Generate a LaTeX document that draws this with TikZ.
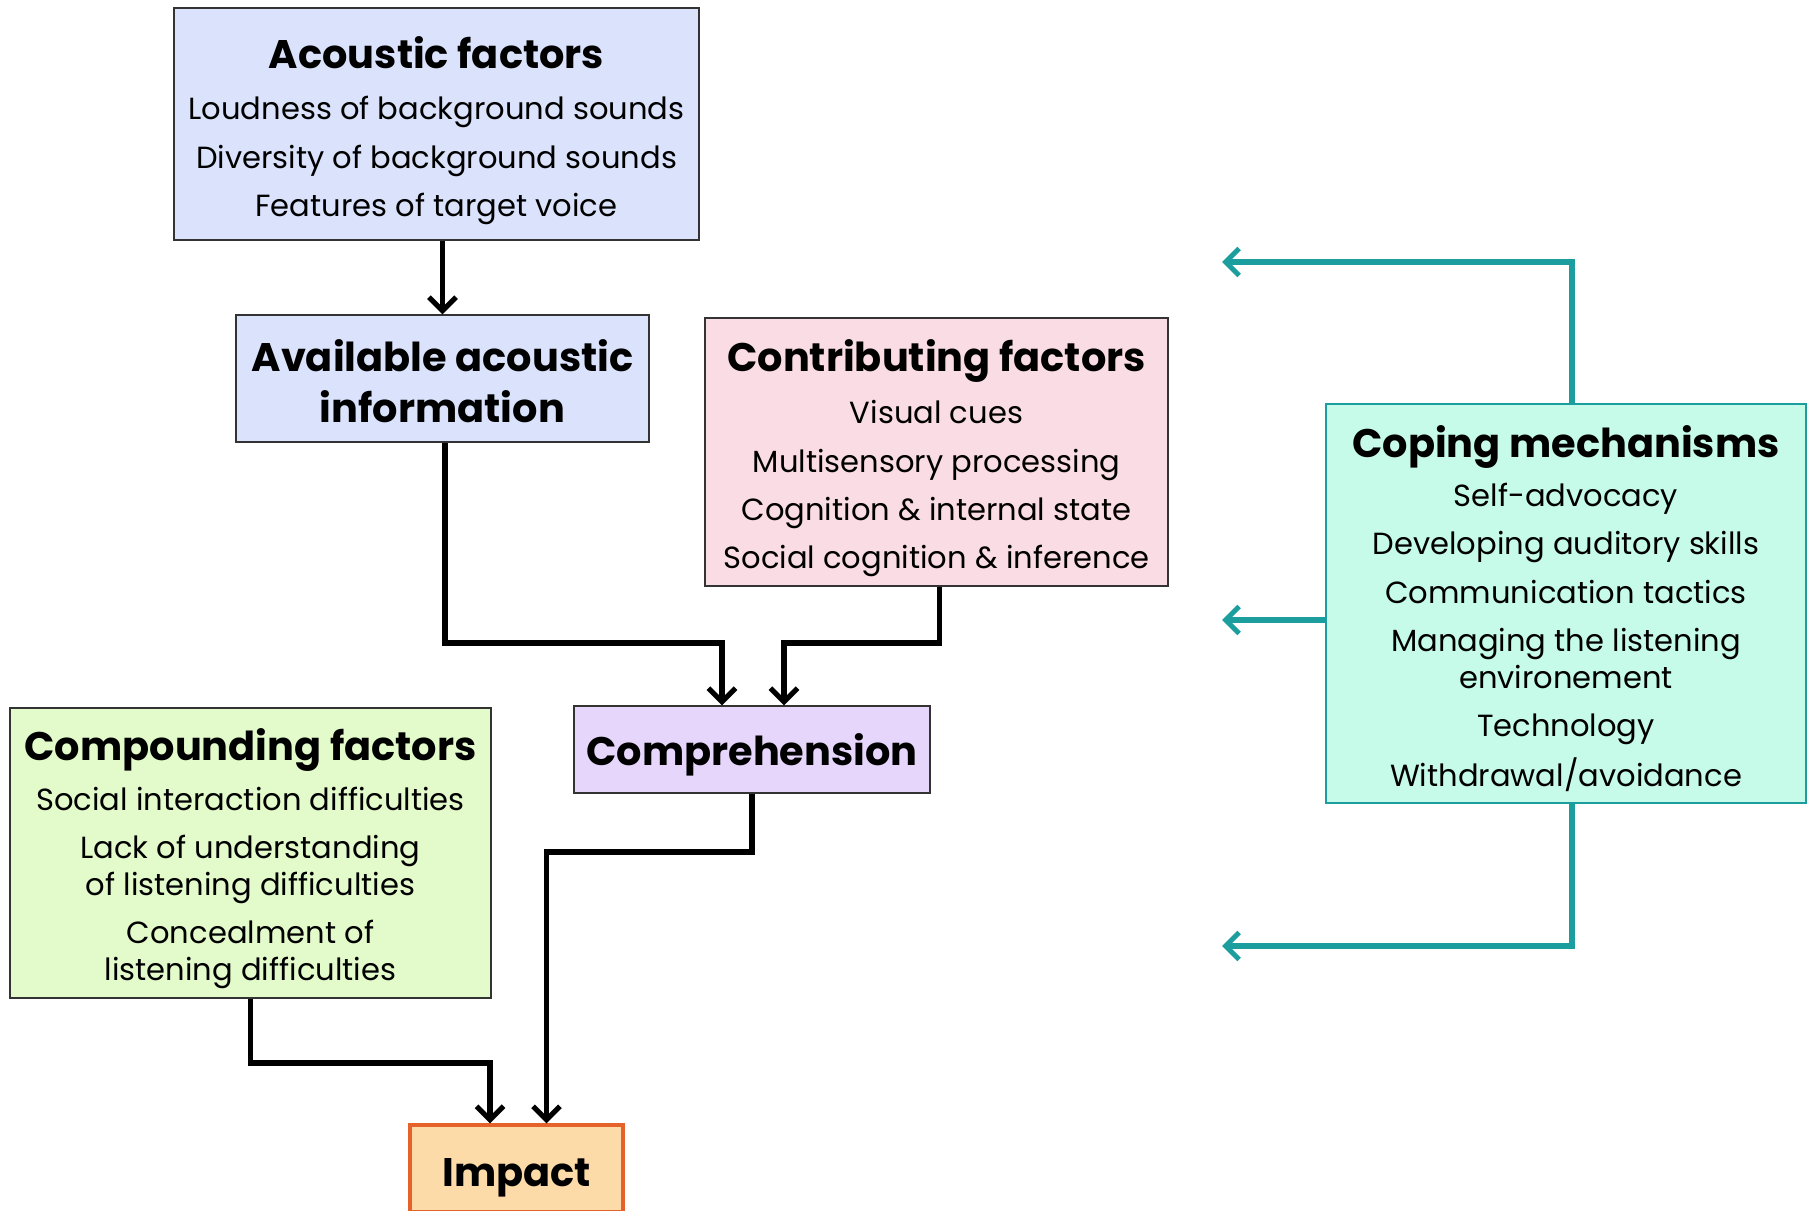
\documentclass[tikz,border=0pt]{standalone}
\usepackage{fontspec}
\setmainfont{Poppins}
\usetikzlibrary{arrows.meta}
\definecolor{acoublue}{HTML}{DAE3FB}
\definecolor{contribpink}{HTML}{F9DCE4}
\definecolor{copemint}{HTML}{C6FBEA}
\definecolor{compgreen}{HTML}{E3FBCB}
\definecolor{comprelilac}{HTML}{E6D6FB}
\definecolor{impactpeach}{HTML}{FCDBA8}
\definecolor{impactorange}{HTML}{E5622A}
\definecolor{copeteal}{HTML}{1D9E9E}
\definecolor{boxline}{HTML}{333333}
\newcommand\bodyfont{\fontsize{17.4}{21}\selectfont}
\newcommand\headfont{\fontsize{22.7}{29}\selectfont\bfseries}
\newcommand\headstrut[1]{\rule{0pt}{#1}}
\begin{document}
\begin{tikzpicture}[x=0.02cm,y=-0.02cm,
	factorbox/.style={draw=boxline,line width=0.85pt,align=center,inner sep=0pt,font=\bodyfont},
	flow/.style={line width=2.9pt,-{Straight Barb[length=2.7mm,width=5.4mm,line width=2.9pt]}},
	copeflow/.style={flow,draw=copeteal}]
	\useasboundingbox (0,0) rectangle (1811,1210);
	% boxes
	\node[factorbox,fill=acoublue,minimum width=10.5cm,minimum height=4.64cm] (acou) at (436.5,124)
		{\headstrut{25.5pt}{\headfont Acoustic factors}\\[8.5pt] Loudness of background sounds\\[6.5pt] Diversity of background sounds\\[6.5pt] Features of target voice};
	\node[factorbox,fill=acoublue,font=\headfont,minimum width=8.26cm,minimum height=2.54cm] (avail) at (442.5,378.5)
		{\headstrut{21pt}Available acoustic\\ information};
	\node[factorbox,fill=contribpink,minimum width=9.26cm,minimum height=5.36cm] (contrib) at (936.5,452)
		{\headstrut{25.5pt}{\headfont Contributing factors}\\[8.5pt] Visual cues\\[6.5pt] Multisensory processing\\[6.5pt] Cognition \& internal state\\[6.5pt] Social cognition \& inference};
	\node[factorbox,draw=copeteal,line width=1.2pt,fill=copemint,minimum width=9.6cm,minimum height=7.98cm] (coping) at (1566,603.5)
		{\headstrut{24pt}{\headfont Coping mechanisms}\\[7pt] Self-advocacy\\[6.5pt] Developing auditory skills\\[6.5pt] Communication tactics\\[6.5pt] Managing the listening\\ environement\\[6.5pt] Technology\\[6.5pt] Withdrawal/avoidance};
	\node[factorbox,fill=compgreen,minimum width=9.62cm,minimum height=5.8cm] (compound) at (250.5,853)
		{\headstrut{24.5pt}{\headfont Compounding factors}\\[7.5pt] Social interaction difficulties\\[6.5pt] Lack of understanding\\ of listening difficulties\\[6.5pt] Concealment of\\ listening difficulties};
	\node[factorbox,fill=comprelilac,font=\headfont,minimum width=7.12cm,minimum height=1.74cm] (compre) at (752,749.5) {\headstrut{24pt}Comprehension};
	\node[factorbox,draw=impactorange,line width=1.9pt,fill=impactpeach,font=\headfont,minimum width=4.26cm,minimum height=1.74cm] (impact) at (516.5,1168.5) {\headstrut{27pt}Impact};
	% joins and free ends
	\coordinate (joinA) at (0,643);
	\coordinate (joinC) at (0,852);
	\coordinate (joinD) at (0,1063);
	\coordinate (tipA) at (1222,262);
	\coordinate (tipB) at (1222,620);
	\coordinate (tipC) at (1222,946);
	% black arrows
	\draw[flow] (avail.north |- acou.south) -- (avail.north);
	\draw[flow] ([xshift=0.05cm]avail.south) -- ([xshift=0.05cm]avail.south |- joinA) -| ([xshift=-0.6cm]compre.north);
	\draw[flow] ([xshift=0.06cm]contrib.south) -- ([xshift=0.06cm]contrib.south |- joinA) -| ([xshift=0.64cm]compre.north);
	\draw[flow] (compre.south) -- (compre.south |- joinC) -| ([xshift=0.6cm]impact.north);
	\draw[flow] (compound.south) -- (compound.south |- joinD) -| ([xshift=-0.53cm]impact.north);
	% teal arrows
	\draw[copeflow] ([xshift=0.12cm]coping.north) |- (tipA);
	\draw[copeflow] (coping.west |- tipB) -- (tipB);
	\draw[copeflow] ([xshift=0.12cm]coping.south) |- (tipC);
\end{tikzpicture}
\end{document}
